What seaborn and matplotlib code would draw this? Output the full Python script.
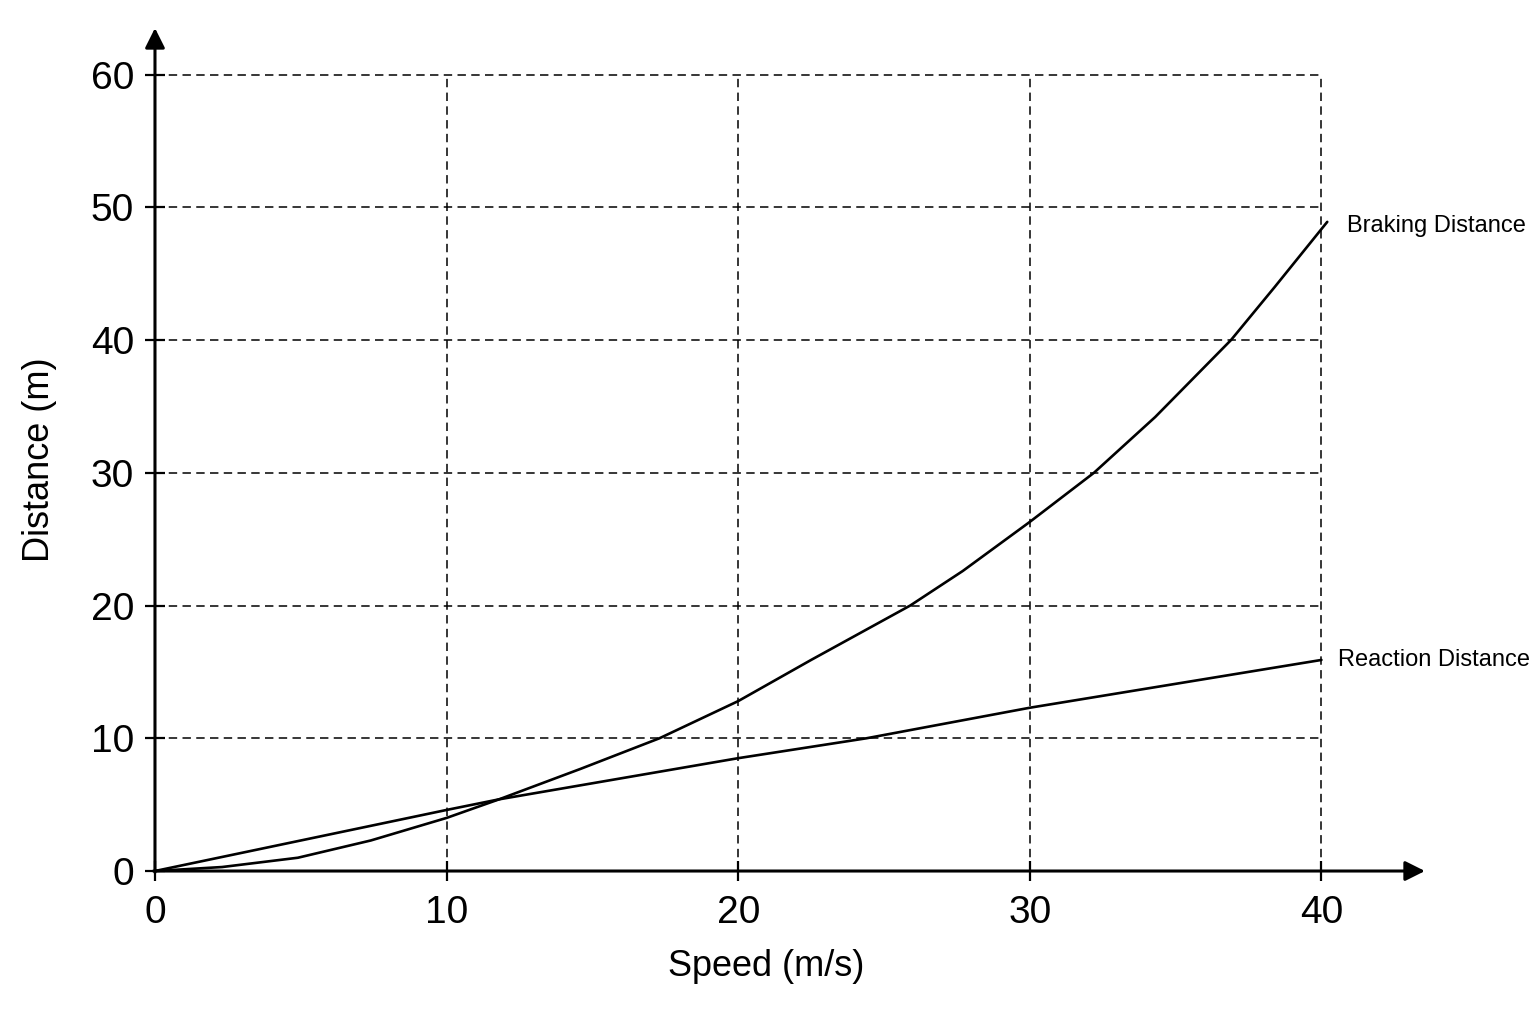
import numpy as np
import pandas as pd
import matplotlib
matplotlib.use("Agg")
import matplotlib.pyplot as plt
import seaborn as sns

# ===================== DATA =====================
braking_speed = [0, 2.3, 4.9, 7.4, 10, 11.8, 14.6, 17.3, 20, 22.5, 25.9, 27.7,
                 30, 32.2, 34.3, 36.9, 38.4, 40.2]
braking_dist = [0, 0.3, 1.0, 2.3, 4.0, 5.4, 7.7, 10, 12.8, 15.9, 20, 22.6,
                26.3, 30, 34.2, 40, 44.0, 48.9]

reaction_speed = [0, 10, 11.8, 20, 24.4, 30, 40]
reaction_dist = [0, 4.6, 5.4, 8.5, 10, 12.3, 15.9]

x_ticks = [0, 10, 20, 30, 40]
y_ticks = [0, 10, 20, 30, 40, 50, 60]

series_labels = ["Braking Distance", "Reaction Distance"]

braking = pd.DataFrame({"speed": braking_speed, "dist": braking_dist})
reaction = pd.DataFrame({"speed": reaction_speed, "dist": reaction_dist})

# ===================== STYLE =====================
sns.set_style("white")
plt.rcParams["font.family"] = ["Liberation Sans", "DejaVu Sans"]
plt.rcParams["text.color"] = "black"
plt.rcParams["axes.labelcolor"] = "black"
plt.rcParams["xtick.color"] = "black"
plt.rcParams["ytick.color"] = "black"

fig = plt.figure(figsize=(15.36, 10.24), dpi=100)
ax = fig.add_axes([0.1009, 0.1494, 0.8268, 0.8232])

x_max, y_max = max(x_ticks), max(y_ticks)
ax.set_xlim(0, 43.55)
ax.set_ylim(0, 63.5)

# dashed grid, only up to the last tick
dash = dict(color="black", lw=1.1, linestyle=(0, (5.5, 3.5)), zorder=1)
ax.hlines(y_ticks[1:], 0, x_max, **dash)
ax.vlines(x_ticks[1:], 0, y_max, **dash)

# curves
sns.lineplot(data=braking, x="speed", y="dist", ax=ax, color="black",
             lw=1.9, sort=False, clip_on=False, zorder=3)
sns.lineplot(data=reaction, x="speed", y="dist", ax=ax, color="black",
             lw=1.9, sort=False, clip_on=False, zorder=3)

# end labels
ax.annotate(series_labels[0], xy=(braking_speed[-1], braking_dist[-1]),
            xytext=(14, -3), textcoords="offset points", va="center",
            ha="left", fontsize=17)
ax.annotate(series_labels[1], xy=(reaction_speed[-1], reaction_dist[-1]),
            xytext=(12, 0), textcoords="offset points", va="center",
            ha="left", fontsize=17)

# axes drawn as arrows
for s in ax.spines.values():
    s.set_visible(False)
arrow = dict(arrowstyle="-|>", lw=2.2, color="black", mutation_scale=30,
             shrinkA=0, shrinkB=0)
ax.annotate("", xy=(43.55, 0), xytext=(-0.05, 0), arrowprops=arrow,
            annotation_clip=False, zorder=4)
ax.annotate("", xy=(0, 63.5), xytext=(0, -0.1), arrowprops=arrow,
            annotation_clip=False, zorder=4)

ax.set_xticks(x_ticks)
ax.set_yticks(y_ticks)
ax.set_xticklabels([str(v) for v in x_ticks])
ax.set_yticklabels([str(v) for v in y_ticks])
ax.tick_params(axis="both", direction="inout", length=14, width=1.6,
               labelsize=28, bottom=True, left=True)
ax.tick_params(axis="x", pad=10)
ax.tick_params(axis="y", pad=8)

ax.set_xlabel("Speed (m/s)", fontsize=26)
ax.set_ylabel("Distance (m)", fontsize=26)
ax.xaxis.set_label_coords(0.481, -0.093)
ax.yaxis.set_label_coords(-0.077, 0.4875)

plt.savefig("out.png", dpi=100, facecolor="white")
